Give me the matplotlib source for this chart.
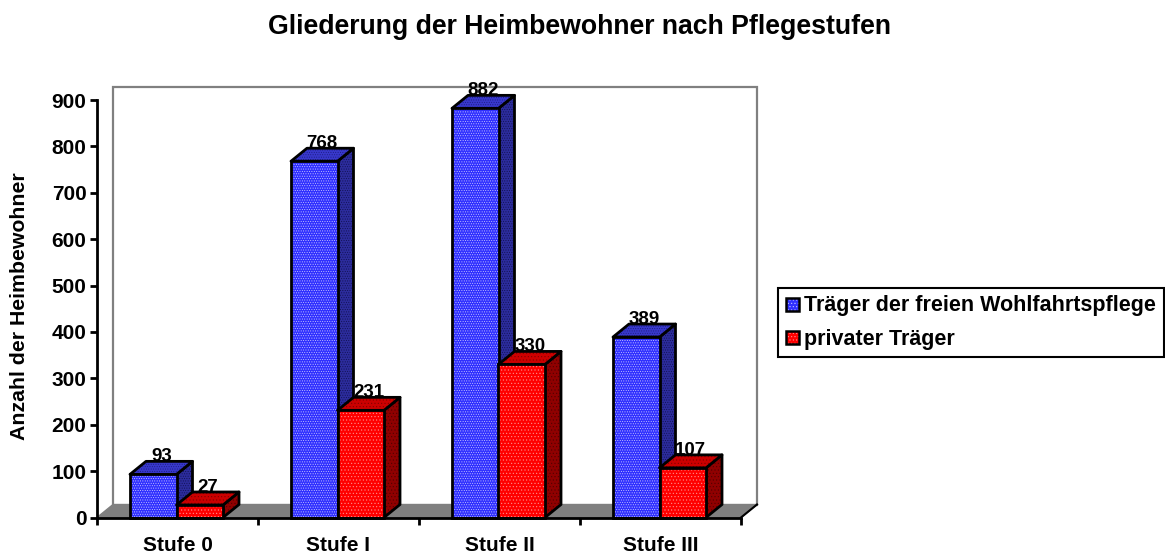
import matplotlib
matplotlib.use("Agg")
import matplotlib.pyplot as plt
from matplotlib.patches import Polygon, Rectangle

plt.rcParams['font.family'] = ['Liberation Sans', 'DejaVu Sans']
plt.rcParams['font.weight'] = 'bold'
plt.rcParams['hatch.linewidth'] = 0.4

categories = ['Stufe 0', 'Stufe I', 'Stufe II', 'Stufe III']
freie = [93, 768, 882, 389]
privat = [27, 231, 330, 107]
series_names = ['Träger der freien Wohlfahrtspflege', 'privater Träger']
y_ticks = [0, 100, 200, 300, 400, 500, 600, 700, 800, 900]
title = 'Gliederung der Heimbewohner nach Pflegestufen'
y_label = 'Anzahl der Heimbewohner'

W, H = 1165, 555
X0, X1, Y0, Y900 = 97, 741, 517.5, 100
fig = plt.figure(figsize=(W / 100, H / 100), dpi=100, facecolor='white')
ax = fig.add_axes([X0 / W, 1 - Y0 / H, (X1 - X0) / W, (Y0 - Y900) / H])
ax.set_xlim(0, 4)
ax.set_ylim(0, 900)
ax.patch.set_visible(False)

dx = 16 / ((X1 - X0) / 4)
dy = 13 / ((Y0 - Y900) / 900)

# back wall + floor
ax.plot([dx, dx, 4 + dx, 4 + dx], [dy, 900 + dy, 900 + dy, dy], color='#808080', lw=1.6,
        clip_on=False, zorder=1, solid_joinstyle='miter')
ax.add_patch(Polygon([(0, 0), (dx, dy), (4 + dx, dy), (4, 0)], closed=True, fc='#808080',
                     ec='#808080', lw=1, clip_on=False, zorder=1))
ax.plot([4, 4 + dx], [0, dy], color='black', lw=1.5, clip_on=False, zorder=2)

bar_w = 46.5 / ((X1 - X0) / 4)
start = 33 / ((X1 - X0) / 4)
STYLE = {
    'blue': dict(face='#3030ff', dots='#c8c8ff', top='#3838cc', top_d='#1c1c80',
                 side='#2c2c9c', side_d='#101050', h='.......'),
    'red': dict(face='#ff0000', dots='#ff9090', top='#cc0000', top_d='#800000',
                side='#900000', side_d='#500000', h='.....'),
}


def bar3d(x, v, st, z):
    r = x + bar_w
    kw = dict(closed=True, clip_on=False, zorder=z, joinstyle='round')
    for pts, col, dots in (([(r, 0), (r + dx, dy), (r + dx, v + dy), (r, v)], st['side'], st['side_d']),
                           ([(x, v), (x + dx, v + dy), (r + dx, v + dy), (r, v)], st['top'], st['top_d'])):
        ax.add_patch(Polygon(pts, fc=col, ec=dots, lw=0, hatch=st['h'], **kw))
        ax.add_patch(Polygon(pts, fc='none', ec='black', lw=2.0, **kw))
    ax.bar(x, v, bar_w, align='edge', color=st['face'], edgecolor=st['dots'], lw=0, hatch=st['h'],
           clip_on=False, zorder=z)
    ax.bar(x, v, bar_w, align='edge', color='none', edgecolor='black', lw=2.0,
           clip_on=False, zorder=z)
    ax.text(x + bar_w / 2 + dx * 0.5, v + dy, str(v), ha='center', va='baseline',
            fontsize=13.5, fontweight='bold', zorder=20, clip_on=False)


for i in range(len(categories)):
    bar3d(i + start, freie[i], STYLE['blue'], 3 + 2 * i)
    bar3d(i + start + bar_w, privat[i], STYLE['red'], 4 + 2 * i)

for s in ('top', 'right'):
    ax.spines[s].set_visible(False)
for s in ('left', 'bottom'):
    ax.spines[s].set_linewidth(2)
    ax.spines[s].set_zorder(15)
ax.set_yticks(y_ticks)
ax.set_xticks([0, 1, 2, 3, 4])
ax.set_xticklabels([])
ax.set_xticks([0.5, 1.5, 2.5, 3.5], labels=categories, minor=True)
ax.tick_params(axis='x', which='major', length=5, width=2, direction='out')
ax.tick_params(axis='x', which='minor', length=0, pad=13, labelsize=15)
ax.tick_params(axis='y', length=5, width=2, direction='out', pad=2.5, labelsize=15)
for t in ax.get_xticklabels(minor=True) + ax.get_yticklabels():
    t.set_fontweight('bold')

fig.text(579 / W, 1 - 27.5 / H, title, ha='center', va='center', fontsize=19.2, fontweight='bold')
fig.text(20 / W, 1 - 306 / H, y_label, rotation=90, ha='center', va='center', fontsize=15.3,
         fontweight='bold')

# legend
lg = fig.add_axes([0, 0, 1, 1], zorder=30)
lg.set_xlim(0, W); lg.set_ylim(H, 0); lg.axis('off')
lg.add_patch(Rectangle((777.5, 287.5), 386, 69, fc='white', ec='black', lw=1.5))
for name, yc, ty, col, dots in zip(series_names, (304.5, 337.5), (305.5, 339.5), ('#3030ff', '#ff0000'), ('#c8c8ff', '#ff9090')):
    lg.add_patch(Rectangle((786, yc - 6.5), 13, 13, fc=col, ec=dots, lw=0, hatch='.....'))
    lg.add_patch(Rectangle((786, yc - 6.5), 13, 13, fc='none', ec='black', lw=1.8))
    lg.text(804, ty, name, va='center', ha='left', fontsize=15.5, fontweight='bold')

fig.savefig('out.png', dpi=100)
